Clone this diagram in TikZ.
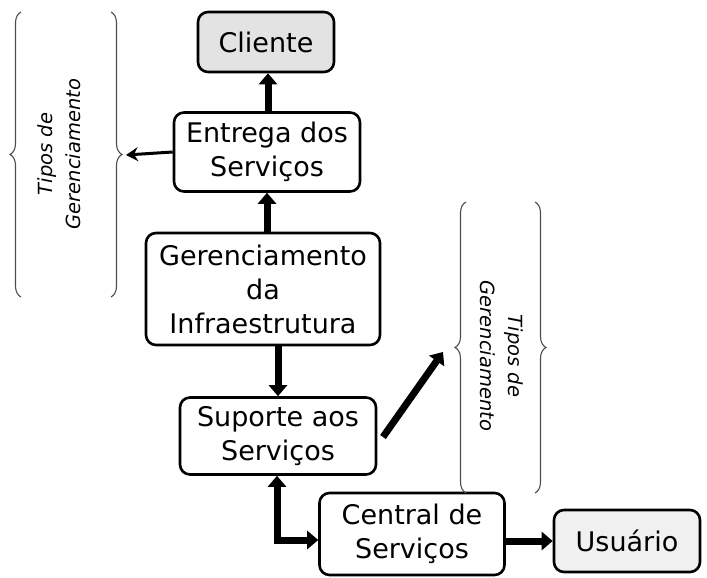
\documentclass[tikz,border=0pt]{standalone}
\usepackage{fontspec}
\setmainfont{DejaVu Sans}
\usetikzlibrary{arrows.meta,decorations.pathreplacing}
\newfontfamily\boxfnt{DejaVu Sans}
\begin{document}
\begin{tikzpicture}[x=1pt,y=-1pt,
  box/.style={draw, line width=2.6pt, rounded corners=10pt, align=center,
    inner sep=0pt, font=\boxfnt\fontsize{27}{34}\selectfont},
  big/.style={line width=7pt, -{Triangle[width=18pt,length=11pt]}},
  brc/.style={draw=black!70, line width=1.1pt, decorate, decoration={brace,amplitude=11pt}},
  btxt/.style={align=center, text=black, font=\itshape\fontsize{19.5}{28}\selectfont}]
\useasboundingbox (0,0) rectangle (707,578);
\node[box, fill=gray!22, minimum width=136pt, minimum height=60pt] (cli) at (266,42) {Cliente};
\node[box, minimum width=186pt, minimum height=79pt] (ent) at (267,152) {Entrega dos\\Serviços};
\node[box, minimum width=234pt, minimum height=112pt] (ger) at (263,289) {Gerenciamento\\da\\Infraestrutura};
\node[box, minimum width=196pt, minimum height=77pt] (sup) at (278,436) {Suporte aos\\Serviços};
\node[box, minimum width=185pt, minimum height=82pt] (cen) at (412,534) {Central de\\Serviços};
\node[box, fill=gray!12, minimum width=146pt, minimum height=62pt] (usu) at (627,541) {Usuário};
% braces
\draw[brc] (21,297) -- (21,12);
\draw[brc] (111,12) -- (111,297);
\draw[brc] (466,493) -- (466,202);
\draw[brc] (535,202) -- (535,493);
\node[btxt, rotate=90] (t1) at (59,154) {Tipos de\\Gerenciamento};
\node[btxt, rotate=-90] (t2) at (502,356) {Tipos de\\Gerenciamento};
\coordinate (lb) at (126,155);
\coordinate (rb) at (443,352);
\coordinate (elb) at (277,540);
% arrows
\draw[big] (ent.north -| 268,0) -- (cli.south -| 268,0);
\draw[big] (ger.north -| 267,0) -- (ent.south -| 267,0);
\draw[big] (ger.south -| 278,0) -- (sup.north -| 278,0);
\draw[line width=7pt, {Triangle[width=18pt,length=11pt]}-{Triangle[width=18pt,length=11pt]}]
  (sup.south -| elb) -- (elb) -- (elb -| cen.west);
\draw[big] (cen.east |- usu) -- (usu.west);
\draw[line width=3pt, -{Stealth[width=14pt,length=12pt,inset=4pt]}] (ent.west) -- (lb);
\draw[big] (383,437) -- (rb);
\end{tikzpicture}
\end{document}
